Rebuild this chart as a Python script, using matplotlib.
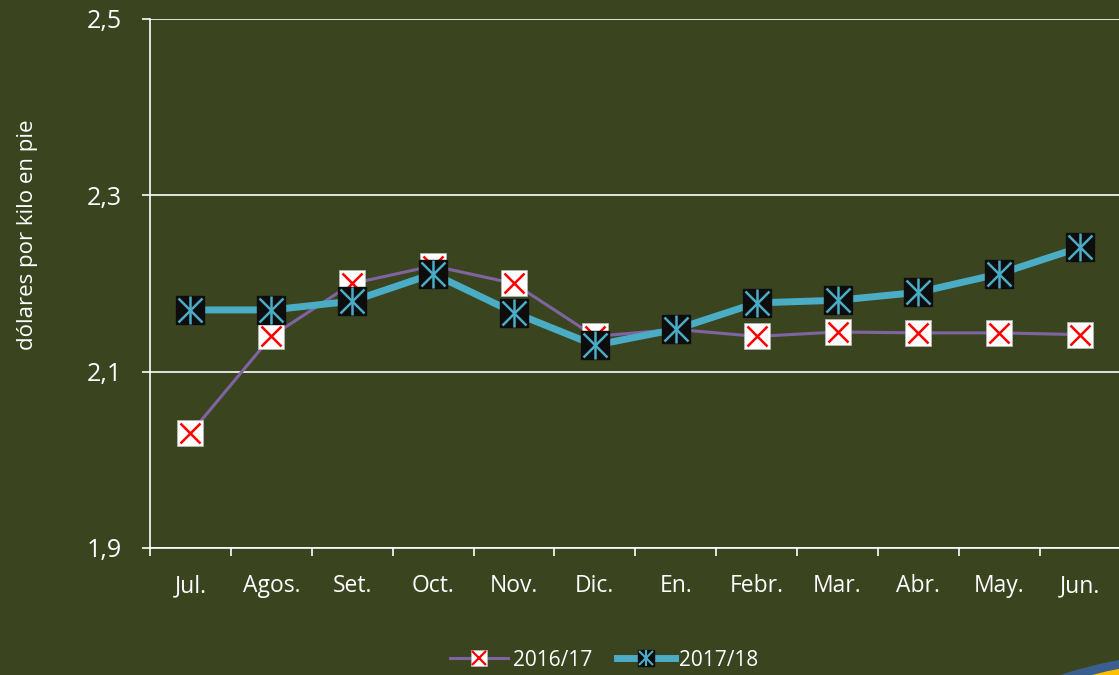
import numpy as np
import matplotlib.pyplot as plt
from matplotlib.patches import Ellipse
from matplotlib.lines import Line2D

# ---- data ----
months = ['Jul.', 'Agos.', 'Set.', 'Oct.', 'Nov.', 'Dic.', 'En.', 'Febr.', 'Mar.', 'Abr.', 'May.', 'Jun.']
s2016 = [2.03, 2.14, 2.20, 2.22, 2.20, 2.14, 2.148, 2.14, 2.145, 2.144, 2.144, 2.142]
s2017 = [2.17, 2.17, 2.18, 2.211, 2.167, 2.13, 2.148, 2.178, 2.181, 2.19, 2.211, 2.241]

bg = '#3a4520'
purple = '#8064a2'
cyan = '#4bacc6'

plt.rcParams['font.family'] = ['Open Sans', 'DejaVu Sans']

fig = plt.figure(figsize=(11.19, 6.75), dpi=100)
fig.patch.set_facecolor(bg)
ax = fig.add_axes([150/1119, 1-548/675, 1-150/1119, (548-19)/675])
ax.set_facecolor(bg)

x = np.arange(len(months))

# 2016/17 series
ax.plot(x, s2016, color=purple, lw=2.2, zorder=3)
ax.plot(x, s2016, ls='none', marker='s', ms=19, mfc='white', mec='#bbbbbb', mew=0.5, zorder=4)
ax.plot(x, s2016, ls='none', marker='x', ms=15, mec='red', mew=1.8, zorder=5)

# 2017/18 series
ax.plot(x, s2017, color=cyan, lw=5, zorder=6)
ax.plot(x, s2017, ls='none', marker='s', ms=20.5, mfc='#0d0d0d', mec='#0d0d0d', zorder=7)
ax.plot(x, s2017, ls='none', marker='x', ms=17, mec=cyan, mew=1.8, zorder=8)
ax.plot(x, s2017, ls='none', marker='|', ms=20, mec=cyan, mew=1.8, zorder=8)

ax.set_xlim(-0.5, 11.48)
ax.set_ylim(1.9, 2.5)
ax.set_yticks([1.9, 2.1, 2.3, 2.5])
ax.set_yticklabels(['1,9', '2,1', '2,3', '2,5'])
ax.set_xticks(x)
ax.set_xticklabels(months)
ax.set_xticks(np.arange(-0.5, 11.5, 1), minor=True)
ax.tick_params(axis='x', which='major', length=0, pad=19, labelsize=16.5, colors='white')
ax.tick_params(axis='x', which='minor', length=5.5, width=1.2, color='white')
ax.tick_params(axis='y', length=6, width=1.2, color='white', labelsize=18, labelcolor='white', pad=14)

ax.grid(axis='y', color='white', lw=1.2)
for s in ['top', 'right']:
    ax.spines[s].set_visible(False)
for s in ['left', 'bottom']:
    ax.spines[s].set_color('white')
    ax.spines[s].set_linewidth(1.2)

fig.text(28/1119, 1-235/675, 'dólares por kilo en pie', color='white', fontsize=16,
         rotation=90, ha='center', va='center')

# legend
h1 = (Line2D([], [], color=purple, lw=2.2),
      Line2D([], [], ls='none', marker='s', ms=12, mfc='white', mec='#bbbbbb', mew=0.5),
      Line2D([], [], ls='none', marker='x', ms=10, mec='red', mew=1.6))
h2 = (Line2D([], [], color=cyan, lw=5),
      Line2D([], [], ls='none', marker='s', ms=12, mfc='#0d0d0d', mec='#0d0d0d'),
      Line2D([], [], ls='none', marker='x', ms=10, mec=cyan, mew=1.5),
      Line2D([], [], ls='none', marker='|', ms=11, mec=cyan, mew=1.5))
leg = fig.legend([h1, h2], ['2016/17', '2017/18'], loc='center', bbox_to_anchor=(0.54, 0.022),
                 ncol=2, frameon=False, fontsize=15, labelcolor='white',
                 handlelength=2.8, handletextpad=0.2, columnspacing=1.2)

# corner decoration (blue rim + yellow disc peeking in at bottom right)
W, H = 1119, 675
fig.patches.append(Ellipse((1250/W, -85/H), 584/W, 224/H, transform=fig.transFigure,
                           facecolor='#3a5f8f', edgecolor='none', zorder=0))
fig.patches.append(Ellipse((1256/W, -88/H), 578/W, 214/H, transform=fig.transFigure,
                           facecolor='#ffc000', edgecolor='none', zorder=0))

fig.savefig('out.png', dpi=100, facecolor=bg)
